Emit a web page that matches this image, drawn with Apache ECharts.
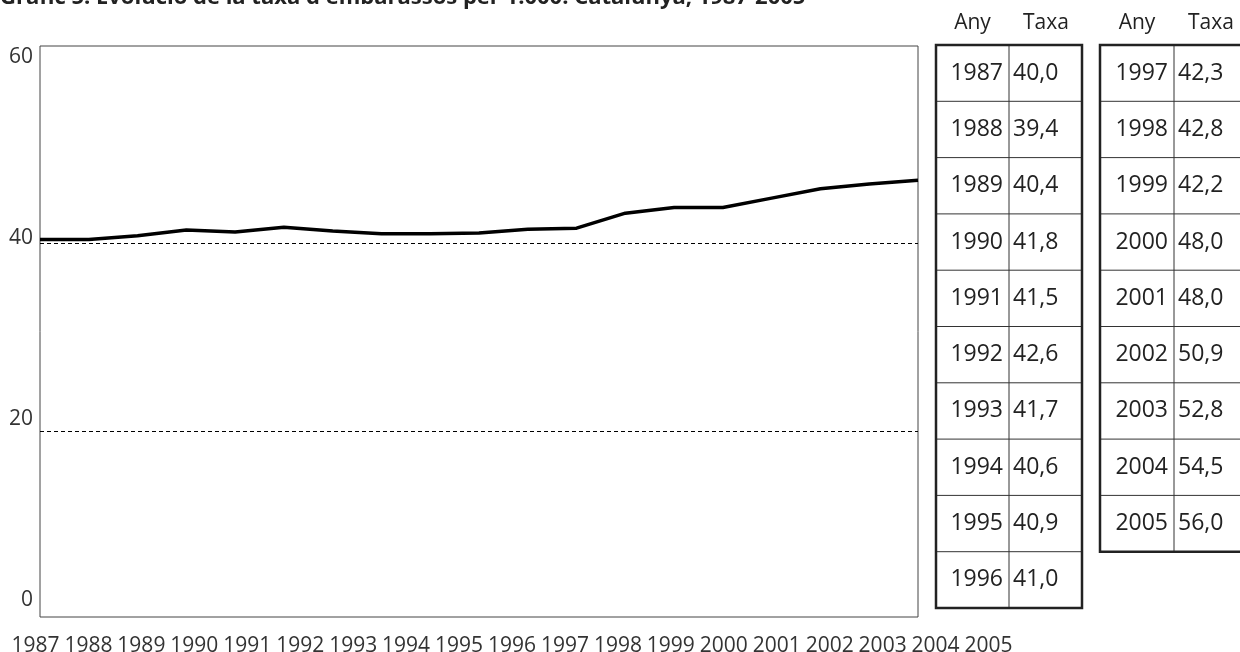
<!DOCTYPE html>
<html lang="ca">
<head>
    <meta charset="UTF-8">
    <script src="https://cdn.jsdelivr.net/npm/echarts@6/dist/echarts.min.js"></script>
    <title>Gràfic 5</title>
    <style>
        html, body { height: 100%; margin: 0; padding: 0; background: #fff; }
        #graph { width: 1240px; height: 652px; }
    </style>
</head>
<body>
    <div id="graph"></div>
    <script>
        // anys de l'eix X
        var years = ['1987', '1988', '1989', '1990', '1991', '1992', '1993', '1994', '1995', '1996',
            '1997', '1998', '1999', '2000', '2001', '2002', '2003', '2004', '2005'];
        // valors de la línia, llegits del dibuix
        var lineVals = [40.4, 40.4, 40.8, 41.4, 41.2, 41.7, 41.3, 41.0, 41.0, 41.1,
            41.5, 41.6, 43.2, 43.8, 43.8, 44.8, 45.8, 46.3, 46.7];
        // taula: taxa per any
        var taxa = [40.0, 39.4, 40.4, 41.8, 41.5, 42.6, 41.7, 40.6, 40.9, 41.0,
            42.3, 42.8, 42.2, 48.0, 48.0, 50.9, 52.8, 54.5, 56.0];
        var yTicks = [0, 20, 40, 60];
        var refLines = [20, 40];

        var FONT = '"Open Sans", "Noto Sans", sans-serif';
        var chart = echarts.init(document.getElementById('graph'));

        var fmt = function (v) { return v.toFixed(1).replace('.', ','); };

        function txt(x, y, s, size, align) {
            return {
                type: 'text', x: x, y: y,
                style: { text: s, font: size + 'px ' + FONT, fill: '#222', textAlign: align, align: align, textVerticalAlign: 'middle', verticalAlign: 'middle' }
            };
        }

        function buildTable(x0, xDiv, x1, top, rowH, yrs, vals) {
            var els = [];
            var n = yrs.length;
            var bottom = top + rowH * n;
            // capçalera
            els.push(txt((x0 + xDiv) / 2, 23, 'Any', 21, 'center'));
            els.push(txt(xDiv + 37, 23, 'Taxa', 21, 'center'));
            for (var i = 1; i < n; i++) {
                els.push({ type: 'line', shape: { x1: x0, y1: top + rowH * i, x2: x1, y2: top + rowH * i }, style: { stroke: '#333', lineWidth: 1 } });
            }
            els.push({ type: 'line', shape: { x1: xDiv, y1: top, x2: xDiv, y2: bottom }, style: { stroke: '#333', lineWidth: 1 } });
            els.push({ type: 'rect', shape: { x: x0, y: top, width: x1 - x0, height: bottom - top }, style: { fill: 'none', stroke: '#222', lineWidth: 2.5 } });
            for (var j = 0; j < n; j++) {
                var cy = top + rowH * (j + 0.5);
                els.push(txt(xDiv - 6, cy, yrs[j], 23, 'right'));
                els.push(txt(xDiv + 4, cy, fmt(vals[j]), 23, 'left'));
            }
            return els;
        }

        var graphics = [].concat(
            buildTable(936, 1009, 1082, 45, 56.3, years.slice(0, 10), taxa.slice(0, 10)),
            buildTable(1100, 1174, 1252, 45, 56.3, years.slice(10), taxa.slice(10))
        );

        var option = {
            backgroundColor: '#ffffff',
            animation: false,
            title: {
                text: "Gràfic 5. Evolució de la taxa d'embarassos per 1.000. Catalunya, 1987-2005",
                left: 0,
                top: -13,
                padding: 0,
                textStyle: { fontFamily: FONT, fontSize: 22, fontWeight: 'bold', color: '#222' }
            },
            grid: [
                // àrea del gràfic
                { left: 40, right: 322, top: 46, bottom: 35, show: true, borderColor: '#444', borderWidth: 1, outerBoundsMode: 'none' },
                // etiquetes Y
                { left: 40, right: 322, top: 57, bottom: 52, outerBoundsMode: 'none' },
                // etiquetes X
                { left: 9, width: 1006, top: 600, bottom: 18, outerBoundsMode: 'none' }
            ],
            xAxis: [
                { gridIndex: 0, type: 'category', data: years, boundaryGap: false, show: false },
                { gridIndex: 1, type: 'category', data: years, show: false },
                {
                    gridIndex: 2, type: 'category', data: years, boundaryGap: true,
                    axisLine: { show: false }, axisTick: { show: false },
                    axisLabel: { margin: 2, interval: 0, fontFamily: FONT, fontSize: 21, color: '#333' }
                }
            ],
            yAxis: [
                { gridIndex: 0, type: 'value', min: 0.2, max: 61, show: false },
                {
                    gridIndex: 1, type: 'value', min: yTicks[0], max: yTicks[yTicks.length - 1], interval: 20,
                    axisLine: { show: false }, axisTick: { show: false }, splitLine: { show: false },
                    axisLabel: { margin: 7, fontFamily: FONT, fontSize: 21, color: '#333' }
                },
                { gridIndex: 2, type: 'value', show: false }
            ],
            series: [
                {
                    type: 'line',
                    xAxisIndex: 0,
                    yAxisIndex: 0,
                    data: lineVals,
                    symbol: 'none',
                    lineStyle: { color: '#000', width: 3.5 },
                    markLine: {
                        silent: true,
                        symbol: ['none', 'none'],
                        label: { show: false },
                        lineStyle: { color: '#000', width: 1, type: [4, 3] },
                        data: refLines.map(function (v) { return { yAxis: v }; })
                    }
                }
            ],
            graphic: graphics
        };
        chart.setOption(option);
    </script>
</body>
</html>
